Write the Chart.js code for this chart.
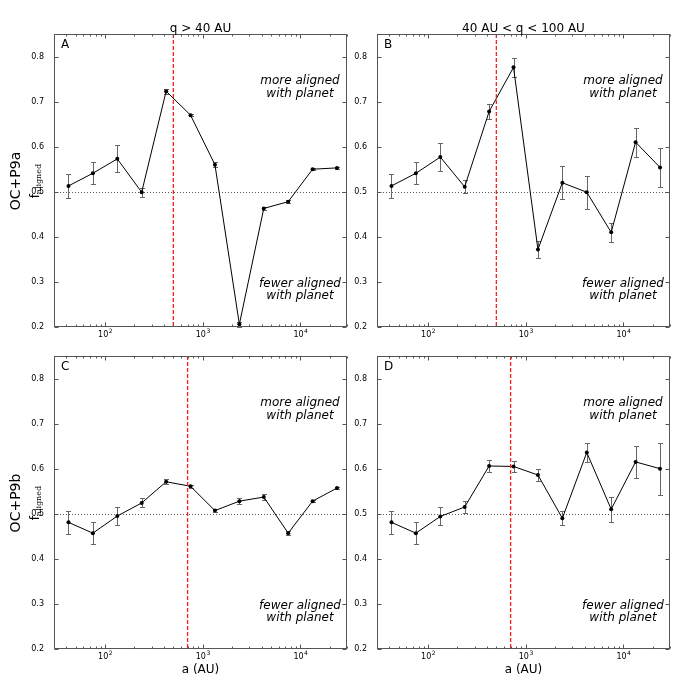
<!DOCTYPE html>
<html>
<head>
<meta charset="utf-8">
<script src="https://cdn.jsdelivr.net/npm/chart.js@4.4.0/dist/chart.umd.min.js"></script>
<style>
  body { margin: 0; background: #fff; }
  #wrap { position: relative; width: 684px; height: 684px; font-family: "DejaVu Sans", sans-serif; color: #000; }
  canvas { position: absolute; }
  .lbl { position: absolute; white-space: nowrap; line-height: 1; transform: translate(-50%, -50%); }
  .rot { transform: translate(-50%, -50%) rotate(-90deg); }
  .lbl sub { font-family: "DejaVu Serif", serif; font-size: 8px; vertical-align: -2px; }
</style>
</head>
<body>
<div id="wrap">
  <canvas id="cA" width="352" height="342" style="left:0;top:0"></canvas>
  <canvas id="cB" width="342" height="342" style="left:342px;top:0"></canvas>
  <canvas id="cC" width="352" height="342" style="left:0;top:342px"></canvas>
  <canvas id="cD" width="342" height="342" style="left:342px;top:342px"></canvas>

  <div class="lbl" style="left:200.5px;top:27.5px;font-size:12px">q &gt; 40 AU</div>
  <div class="lbl" style="left:523.5px;top:27.5px;font-size:12px">40 AU &lt; q &lt; 100 AU</div>
  <div class="lbl" style="left:200.5px;top:668.5px;font-size:12px">a (AU)</div>
  <div class="lbl" style="left:523.5px;top:668.5px;font-size:12px">a (AU)</div>
  <div class="lbl rot" style="left:15px;top:180.5px;font-size:14px">OC+P9a</div>
  <div class="lbl rot" style="left:36px;top:181px;font-size:12px">f<sub>aligned</sub></div>
  <div class="lbl rot" style="left:15px;top:503px;font-size:14px">OC+P9b</div>
  <div class="lbl rot" style="left:36px;top:503px;font-size:12px">f<sub>aligned</sub></div>
</div>
<script>
// bin centres in semi-major axis (AU)
var semiMajor = [42.2, 75.0, 133.4, 237.1, 421.7, 749.9, 1333.5, 2371.4, 4217, 7499, 13335, 23714];

// fraction aligned and errors, per panel
var fA   = [0.513, 0.541, 0.573, 0.499, 0.723, 0.670, 0.560, 0.206, 0.463, 0.478, 0.550, 0.553];
var errA = [0.026, 0.024, 0.030, 0.010, 0.006, 0.003, 0.006, 0.005, 0.004, 0.003, 0.002, 0.002];
var fB   = [0.513, 0.541, 0.577, 0.511, 0.678, 0.776, 0.372, 0.520, 0.499, 0.410, 0.610, 0.554];
var errB = [0.026, 0.024, 0.031, 0.014, 0.016, 0.021, 0.018, 0.037, 0.037, 0.021, 0.032, 0.043];
var fC   = [0.481, 0.457, 0.495, 0.524, 0.571, 0.561, 0.507, 0.528, 0.537, 0.457, 0.528, 0.557];
var errC = [0.025, 0.024, 0.020, 0.010, 0.006, 0.003, 0.003, 0.006, 0.006, 0.004, 0.003, 0.003];
var fD   = [0.481, 0.457, 0.494, 0.515, 0.606, 0.605, 0.586, 0.490, 0.636, 0.510, 0.615, 0.600];
var errD = [0.025, 0.024, 0.020, 0.013, 0.013, 0.012, 0.014, 0.016, 0.021, 0.028, 0.036, 0.058];

var cutTop = 500;    // dashed line, top row
var cutBottom = 700; // dashed line, bottom row

var yTicks = [0.2, 0.3, 0.4, 0.5, 0.6, 0.7, 0.8];
var xTicks = [100, 1000, 10000];
var fam = '"DejaVu Sans", sans-serif';

function seg(ctx, x1, y1, x2, y2) {
    ctx.beginPath(); ctx.moveTo(x1, y1); ctx.lineTo(x2, y2); ctx.stroke();
}

var panelDeco = {
    id: 'panelDeco',
    beforeDatasetsDraw: function (chart, args, opts) {
        var ctx = chart.ctx, a = chart.chartArea, xs = chart.scales.x, ys = chart.scales.y;
        ctx.save();
        ctx.lineWidth = 1;
        // 0.5 reference
        ctx.strokeStyle = 'rgba(0,0,0,0.65)';
        ctx.setLineDash([1, 2]);
        var y5 = Math.round(ys.getPixelForValue(0.5)) + 0.5;
        seg(ctx, a.left, y5, a.right, y5);
        ctx.restore();

        // error bars
        ctx.save();
        ctx.lineWidth = 1;
        ctx.strokeStyle = '#666';
        var vals = chart.data.datasets[0].data;
        for (var i = 0; i < vals.length; i++) {
            var px = Math.round(xs.getPixelForValue(vals[i].x)) + 0.5;
            var y1 = Math.round(ys.getPixelForValue(vals[i].y - opts.err[i])) + 0.5;
            var y2 = Math.round(ys.getPixelForValue(vals[i].y + opts.err[i])) + 0.5;
            seg(ctx, px, y1, px, y2);
            seg(ctx, px - 2.5, y1, px + 2.5, y1);
            seg(ctx, px - 2.5, y2, px + 2.5, y2);
        }
        ctx.restore();
    },
    afterDatasetsDraw: function (chart, args, opts) {
        var ctx = chart.ctx, a = chart.chartArea, xs = chart.scales.x;
        // cut line
        ctx.save();
        ctx.lineWidth = 1.3;
        ctx.strokeStyle = 'rgb(255,30,30)';
        ctx.setLineDash([4, 2]);
        var xc = xs.getPixelForValue(opts.cut);
        seg(ctx, xc, a.top, xc, a.bottom);
        ctx.restore();
    },
    afterDraw: function (chart, args, opts) {
        var ctx = chart.ctx, a = chart.chartArea, xs = chart.scales.x, ys = chart.scales.y;
        ctx.save();
        ctx.strokeStyle = '#555';
        ctx.lineWidth = 1;
        var L = a.left + 0.5, R = a.right - 0.5, T = a.top + 0.5, B = a.bottom - 0.5;
        ctx.strokeRect(L, T, R - L, B - T);
        // inward ticks
        xTicks.forEach(function (v) {
            var px = Math.round(xs.getPixelForValue(v)) + 0.5;
            seg(ctx, px, B, px, B - 4); seg(ctx, px, T, px, T + 4);
        });
        [10, 100, 1000, 10000].forEach(function (d) {
            for (var k = 2; k <= 9; k++) {
                var v = k * d;
                if (v < 30 || v > 30000) continue;
                var px = Math.round(xs.getPixelForValue(v)) + 0.5;
                seg(ctx, px, B, px, B - 2); seg(ctx, px, T, px, T + 2);
            }
        });
        yTicks.forEach(function (v) {
            var py = Math.round(ys.getPixelForValue(v)) + 0.5;
            seg(ctx, L, py, L + 4, py); seg(ctx, R, py, R - 4, py);
        });
        // x tick labels 10^n
        ctx.fillStyle = '#000';
        ctx.textBaseline = 'alphabetic';
        ctx.textAlign = 'left';
        xTicks.forEach(function (v) {
            var px = xs.getPixelForValue(v);
            var ex = String(Math.round(Math.log10(v)));
            ctx.font = '8px ' + fam;
            var wb = ctx.measureText('10').width;
            ctx.font = '6px ' + fam;
            var we = ctx.measureText(ex).width;
            var x0 = px - (wb + we) / 2;
            ctx.font = '8px ' + fam;
            ctx.fillText('10', x0, a.bottom + 10);
            ctx.font = '6px ' + fam;
            ctx.fillText(ex, x0 + wb + 0.5, a.bottom + 6);
        });
        // panel letter
        ctx.font = '12px ' + fam;
        ctx.fillText(opts.letter, a.left + 7, a.top + 14);
        // annotations
        ctx.font = 'italic 12px ' + fam;
        ctx.textAlign = 'center';
        ctx.textBaseline = 'middle';
        var cx = a.left + 246;
        ctx.fillText('more aligned', cx, a.top + 47);
        ctx.fillText('with planet', cx, a.top + 60);
        ctx.fillText('fewer aligned', cx, a.top + 250);
        ctx.fillText('with planet', cx, a.top + 262);
        ctx.restore();
    }
};

function makePanel(id, vals, errs, cut, letter, pad, yw, xh) {
    var pts = semiMajor.map(function (x, i) { return { x: x, y: vals[i] }; });
    return new Chart(document.getElementById(id), {
        type: 'line',
        data: {
            datasets: [{
                data: pts,
                borderColor: '#000',
                borderWidth: 1,
                pointRadius: 2,
                pointBackgroundColor: '#000',
                pointBorderWidth: 0,
                tension: 0,
                clip: false
            }]
        },
        options: {
            responsive: false,
            animation: false,
            layout: { padding: pad },
            plugins: {
                legend: { display: false },
                tooltip: { enabled: false },
                panelDeco: { cut: cut, err: errs, letter: letter }
            },
            scales: {
                x: {
                    type: 'logarithmic',
                    min: 30, max: 30000,
                    grid: { display: false },
                    border: { display: false },
                    afterBuildTicks: function (s) { s.ticks = xTicks.map(function (v) { return { value: v }; }); },
                    afterFit: function (s) { s.height = xh; },
                    ticks: { display: false }
                },
                y: {
                    min: 0.2, max: 0.85,
                    grid: { display: false },
                    border: { display: false },
                    afterBuildTicks: function (s) { s.ticks = yTicks.map(function (v) { return { value: v }; }); },
                    afterFit: function (s) { s.width = yw; },
                    ticks: {
                        font: { size: 8, family: fam }, color: '#000', padding: 2,
                        callback: function (v) { return v.toFixed(1); }
                    }
                }
            }
        },
        plugins: [panelDeco]
    });
}

makePanel('cA', fA, errA, cutTop, 'A', { left: 0, top: 34, right: 5, bottom: 0 }, 54, 15);
makePanel('cB', fB, errB, cutTop, 'B', { left: 0, top: 34, right: 14, bottom: 0 }, 35, 15);
makePanel('cC', fC, errC, cutBottom, 'C', { left: 0, top: 14, right: 5, bottom: 0 }, 54, 35);
makePanel('cD', fD, errD, cutBottom, 'D', { left: 0, top: 14, right: 14, bottom: 0 }, 35, 35);
</script>
</body>
</html>
